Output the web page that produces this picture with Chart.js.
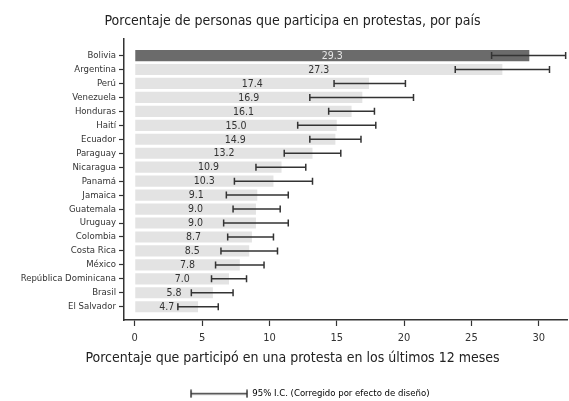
<!DOCTYPE html>
<html>
<head>
<meta charset="utf-8">
<script src="https://cdn.jsdelivr.net/npm/chart.js@4.4.1/dist/chart.umd.min.js"></script>
<style>
  html, body { margin: 0; padding: 0; background: #fff; }
  #wrap { width: 569px; height: 401px; }
</style>
</head>
<body>
<div id="wrap"><canvas id="protestChart"></canvas></div>
<script>
const countries = ['Bolivia', 'Argentina', 'Perú', 'Venezuela', 'Honduras', 'Haití', 'Ecuador', 'Paraguay', 'Nicaragua', 'Panamá', 'Jamaica', 'Guatemala', 'Uruguay', 'Colombia', 'Costa Rica', 'México', 'República Dominicana', 'Brasil', 'El Salvador'];
const values = [29.3, 27.3, 17.4, 16.9, 16.1, 15.0, 14.9, 13.2, 10.9, 10.3, 9.1, 9.0, 9.0, 8.7, 8.5, 7.8, 7.0, 5.8, 4.7];
const ciLow = [26.5, 23.8, 14.8, 13.0, 14.4, 12.1, 13.0, 11.1, 9.0, 7.4, 6.8, 7.3, 6.6, 6.9, 6.4, 6.0, 5.7, 4.2, 3.2];
const ciHigh = [32.0, 30.8, 20.1, 20.7, 17.8, 17.9, 16.8, 15.3, 12.7, 13.2, 11.4, 10.8, 11.4, 10.3, 10.6, 9.6, 8.3, 7.3, 6.2];
const xTicks = [0, 5, 10, 15, 20, 25, 30];
const highlight = 'Bolivia';
const xTitle = 'Porcentaje que participó en una protesta en los últimos 12 meses';
const legendText = '95% I.C. (Corregido por efecto de diseño)';

const FONT = "'Liberation Sans Narrow', 'DejaVu Sans Condensed', 'Roboto', sans-serif";

// legend symbol: an error bar, with blank room on the left so the item sits where the original has it
function errorBarSymbol() {
    const c = document.createElement('canvas');
    c.width = 93;
    c.height = 9;
    const g = c.getContext('2d');
    g.strokeStyle = '#333';
    g.lineWidth = 1.5;
    g.beginPath();
    g.moveTo(36, 4.5); g.lineTo(92, 4.5);
    g.moveTo(36, 0.5); g.lineTo(36, 8.5);
    g.moveTo(92, 0.5); g.lineTo(92, 8.5);
    g.stroke();
    return c;
}

// error bars and the value written inside each bar
const barExtras = {
    id: 'barExtras',
    afterDatasetsDraw(chart) {
        const ctx = chart.ctx;
        const xs = chart.scales.x;
        const ys = chart.scales.y;
        const bars = chart.getDatasetMeta(0).data;
        ctx.save();
        ctx.font = '10.5px ' + FONT;
        ctx.textAlign = 'center';
        ctx.textBaseline = 'middle';
        bars.forEach((bar, i) => {
            const p = bar.getProps(['x', 'base', 'y']);
            ctx.fillStyle = countries[i] === highlight ? '#e6e6e6' : '#333';
            ctx.fillText(values[i].toFixed(1), (p.x + p.base) / 2, p.y + 0.5);
        });
        ctx.strokeStyle = '#333';
        ctx.lineWidth = 1.5;
        countries.forEach((c, i) => {
            const y = ys.getPixelForValue(i);
            const x1 = xs.getPixelForValue(ciLow[i]);
            const x2 = xs.getPixelForValue(ciHigh[i]);
            ctx.beginPath();
            ctx.moveTo(x1, y); ctx.lineTo(x2, y);
            ctx.moveTo(x1, y - 3.5); ctx.lineTo(x1, y + 3.5);
            ctx.moveTo(x2, y - 3.5); ctx.lineTo(x2, y + 3.5);
            ctx.stroke();
        });
        ctx.restore();
    }
};

function initChart() {
    const ctx = document.getElementById('protestChart').getContext('2d');
    new Chart(ctx, {
        type: 'bar',
        data: {
            datasets: [{
                data: values.map((v, i) => ({ x: v, y: i })),
                backgroundColor: countries.map(c => c === highlight ? '#6b6b6b' : '#e3e3e3'),
                borderWidth: 0,
                barPercentage: 0.8,
                categoryPercentage: 1
            }]
        },
        options: {
            indexAxis: 'y',
            responsive: true,
            maintainAspectRatio: false,
            animation: false,
            layout: { padding: { left: 18, right: 2, top: 2, bottom: 0 } },
            plugins: {
                tooltip: { enabled: false },
                title: {
                    display: true,
                    text: 'Porcentaje de personas que participa en protestas, por país',
                    color: '#222',
                    font: { family: FONT, size: 14, weight: 'normal' },
                    padding: { top: 11, bottom: 9 }
                },
                // x axis title, centred on the whole figure like the original
                subtitle: {
                    display: true,
                    position: 'bottom',
                    text: xTitle,
                    color: '#222',
                    font: { family: FONT, size: 14, weight: 'normal', lineHeight: 1 },
                    padding: { top: 0, bottom: 20.8 }
                },
                legend: {
                    display: true,
                    position: 'bottom',
                    weight: 2000,
                    maxHeight: 15,
                    onClick: null,
                    labels: {
                        usePointStyle: true,
                        pointStyleWidth: 92,
                        padding: 3,
                        color: '#222',
                        font: { family: FONT, size: 9.5 },
                        generateLabels: () => [{
                            text: legendText,
                            pointStyle: errorBarSymbol(),
                            fillStyle: '#333',
                            strokeStyle: '#333',
                            lineWidth: 0,
                            hidden: false,
                            datasetIndex: 0
                        }]
                    }
                }
            },
            scales: {
                x: {
                    type: 'linear',
                    min: -0.8,
                    max: 32.1,
                    afterBuildTicks: s => { s.ticks = xTicks.map(v => ({ value: v })); },
                    ticks: { color: '#333', font: { family: FONT, size: 11 }, padding: 6 },
                    grid: { drawOnChartArea: false, tickLength: 6, tickColor: '#333', tickWidth: 1.2 },
                    border: { color: '#333', width: 1.5 }
                },
                y: {
                    type: 'linear',
                    reverse: true,
                    offset: false,
                    min: -1.2,
                    max: 18.95,
                    afterBuildTicks: s => { s.ticks = countries.map((c, i) => ({ value: i })); },
                    afterFit: s => { s.width = 106; },
                    ticks: { color: '#333', font: { family: FONT, size: 9.5 }, padding: 3, autoSkip: false, callback: v => countries[v] },
                    grid: { offset: false, drawOnChartArea: false, tickLength: 5, tickColor: '#333', tickWidth: 1.2 },
                    border: { color: '#333', width: 1.5 }
                }
            }
        },
        plugins: [barExtras]
    });
}

initChart();
</script>
</body>
</html>
